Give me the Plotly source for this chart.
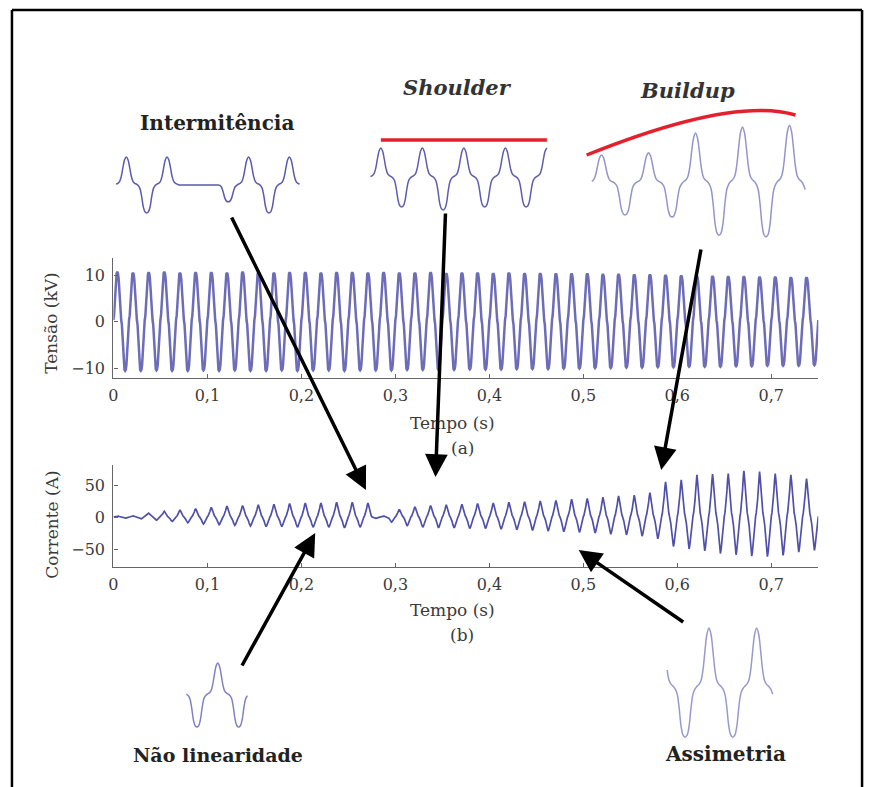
import math
import plotly.graph_objects as go

W, H = 872, 787

# ---------------- data ----------------
TIME_TICKS = [0, 0.1, 0.2, 0.3, 0.4, 0.5, 0.6, 0.7]
TIME_TICK_TEXT = ["0", "0,1", "0,2", "0,3", "0,4", "0,5", "0,6", "0,7"]
V_TICKS = [-10, 0, 10]
I_TICKS = [-50, 0, 50]
FREQ_HZ = 60
SAMPLES_PER_CYCLE = 24

# normalised cycles (each starts at the positive peak)
INSET_SHAPE = [1.00, 0.90, 0.62, 0.30, 0.12, 0.06, 0.03, -0.02, -0.12, -0.40, -0.78, -0.96,
               -1.00, -0.96, -0.78, -0.40, -0.12, -0.02, 0.03, 0.06, 0.12, 0.30, 0.62, 0.90]
V_SHAPE = [1.00, 0.97, 0.87, 0.64, 0.34, 0.12, 0.03, -0.06, -0.30, -0.64, -0.88, -0.98,
           -1.00, -0.98, -0.88, -0.64, -0.30, -0.06, 0.03, 0.12, 0.34, 0.64, 0.87, 0.97]
I_SHAPE = [1.00, 0.85, 0.60, 0.38, 0.22, 0.10, 0.02, -0.08, -0.22, -0.42, -0.68, -0.90,
           -1.00, -0.90, -0.68, -0.42, -0.22, -0.08, 0.02, 0.10, 0.22, 0.38, 0.60, 0.85]

# per-cycle peak / trough magnitudes, voltage (kV)
V_PEAKS = [10.6, 10.7, 10.5, 10.6, 10.7, 10.5, 10.6, 10.6, 10.5, 10.7,
           10.6, 10.5, 10.6, 10.6, 10.5, 10.6, 10.6, 10.5, 10.6, 10.5,
           10.5, 10.6, 10.4, 10.5, 10.5, 10.4, 10.5, 10.4, 10.4, 10.3,
           10.3, 10.3, 10.2, 10.2, 10.1, 10.1, 10.0, 9.9, 9.8, 9.8,
           9.7, 9.7, 9.6, 9.6, 9.5, 9.5, 9.5]
V_TROUGHS = [10.5, 10.6, 10.6, 10.5, 10.6, 10.6, 10.5, 10.6, 10.5, 10.6,
             10.6, 10.5, 10.6, 10.5, 10.5, 10.6, 10.5, 10.5, 10.5, 10.4,
             10.4, 10.4, 10.4, 10.3, 10.3, 10.3, 10.2, 10.2, 10.2, 10.1,
             10.1, 10.0, 10.0, 9.9, 9.9, 9.8, 9.8, 9.7, 9.7, 9.7,
             9.6, 9.6, 9.5, 9.5, 9.5, 9.4, 9.4]

# per-cycle peak / trough magnitudes, current (A)
I_PEAKS = [2, 2, 2, 6, 9, 11, 13, 15, 17, 18,
           19, 20, 21, 22, 22, 23, 23, 22, 1.5, 12,
           16, 18, 19, 20, 21, 22, 23, 24, 25, 26,
           28, 29, 31, 33, 34, 38, 55, 58, 66, 67,
           68, 72, 71, 68, 66, 60, 50]
I_TROUGHS = [2, 2, 3, 5, 7, 9, 11, 12, 13, 14,
             15, 15, 16, 16, 16, 17, 16, 2, 8, 14,
             16, 17, 17, 18, 18, 19, 20, 21, 22, 23,
             24, 25, 27, 28, 30, 34, 46, 50, 53, 57,
             59, 61, 62, 60, 55, 52, 50]

# inset waveforms (relative peak / trough sizes per cycle)
INT_PEAKS = [1, 1, 0.0, 1, 1]
INT_TROUGHS = [1, 0.0, 0.6, 1, 1]
SHOULDER_PEAKS = [1, 1, 1, 1, 1]
SHOULDER_TROUGHS = [1, 1.1, 1, 1]
BUILDUP_PEAKS = [0.51, 0.55, 0.91, 1.02, 1.05]
BUILDUP_TROUGHS = [0.58, 0.62, 0.95, 0.98, 0.98]
NONLIN_PEAKS = [1]
NONLIN_TROUGHS = [1]
ASYM_PEAKS = [1, 1, 1]
ASYM_TROUGHS = [0.82, 0.82]


def build_wave(shape, pos, neg, c_start, c_end):
    n = SAMPLES_PER_CYCLE
    xs, ys = [], []
    for i in range(round(c_start * n), round(c_end * n) + 1):
        s = shape[i % n]
        if s >= 0:
            a = pos[min(max(int(math.floor(i / n + 0.5)), 0), len(pos) - 1)]
        else:
            a = neg[min(max(int(math.floor(i / n)), 0), len(neg) - 1)]
        xs.append(i / n)
        ys.append(s * a)
    return xs, ys


def px_x(p):
    return p / W


def px_y(p):
    return 1 - p / H


def lin_domain(va, pa, vb, pb, lo, hi, vertical):
    f = lambda v: pa + (v - va) * (pb - pa) / (vb - va)
    a, b = f(lo), f(hi)
    if vertical:
        return sorted([px_y(a), px_y(b)])
    return sorted([px_x(a), px_x(b)])


fig = go.Figure()

SERIF = "DejaVu Serif"
AXC = "#666666"
TXT = "#3a3a3a"

# ---- main waveforms ----
cv, vv = build_wave(V_SHAPE, V_PEAKS, V_TROUGHS, 0.75, 45.75)
tv = [(c - 0.75) / FREQ_HZ for c in cv]
fig.add_trace(go.Scatter(x=tv, y=vv, mode="lines", line=dict(color="#6c6cb9", width=2.5),
                         xaxis="x", yaxis="y", showlegend=False, hoverinfo="skip"))
ci, iv = build_wave(I_SHAPE, I_PEAKS, I_TROUGHS, 0.75, 45.75)
ti = [(c - 0.75) / FREQ_HZ for c in ci]
fig.add_trace(go.Scatter(x=ti, y=iv, mode="lines", line=dict(color="#5050aa", width=1.7),
                         xaxis="x2", yaxis="y2", showlegend=False, hoverinfo="skip"))

axis_common = dict(showgrid=False, zeroline=False, showline=True, linecolor=AXC, linewidth=1.3,
                   ticks="inside", ticklen=4, tickcolor=AXC, mirror=False,
                   tickfont=dict(family=SERIF, size=16, color=TXT))

XD = [px_x(109), px_x(818)]
layout = dict(
    width=W, height=H, margin=dict(l=0, r=0, t=0, b=0),
    paper_bgcolor="white", plot_bgcolor="rgba(0,0,0,0)",
    showlegend=False,
    xaxis=dict(domain=XD, range=[0, 0.75], tickvals=TIME_TICKS, ticktext=TIME_TICK_TEXT,
               anchor="y", ticklabelstandoff=3, **axis_common),
    yaxis=dict(domain=[px_y(378), px_y(258)], range=[-12.15, 13.66], tickvals=V_TICKS,
               anchor="x", ticklabelstandoff=4, **axis_common),
    xaxis2=dict(domain=XD, range=[0, 0.75], tickvals=TIME_TICKS, ticktext=TIME_TICK_TEXT,
                anchor="y2", ticklabelstandoff=3, **axis_common),
    yaxis2=dict(domain=[px_y(567), px_y(465)], range=[-78.1, 81.25], tickvals=I_TICKS,
                anchor="x2", ticklabelstandoff=4, **axis_common),
)

# ---- insets ----
insets = [
    # peaks, troughs, c0, c1, (x map), (y map: value 1 px, value -1 px), colour
    (INT_PEAKS, INT_TROUGHS, -0.24, 4.27, (0, 122, 4, 286), (157, 213), "#5a5aac"),
    (SHOULDER_PEAKS, SHOULDER_TROUGHS, -0.26, 4.0, (0, 378, 4, 545), (148, 207), "#5e5eae"),
    (BUILDUP_PEAKS, BUILDUP_TROUGHS, -0.21, 4.33, (0, 600, 4, 789), (128, 238), "#9494cc"),
    (NONLIN_PEAKS, NONLIN_TROUGHS, -0.76, 0.69, (0, 214, 0.5, 235), (663, 727), "#8080c2"),
    (ASYM_PEAKS, ASYM_TROUGHS, -0.875, 1.35, (0, 708, 1, 756), (628, 748), "#9898ce"),
]
for n, (pk, tr, c0, c1, xm, ym, col) in enumerate(insets, start=3):
    xs, ys = build_wave(INSET_SHAPE, pk, tr, c0, c1)
    xr = [c0 - 0.1, c1 + 0.1]
    yr = [-1.3, 1.3]
    layout[f"xaxis{n}"] = dict(domain=lin_domain(xm[0], xm[1], xm[2], xm[3], xr[0], xr[1], False),
                               range=xr, visible=False, anchor=f"y{n}")
    layout[f"yaxis{n}"] = dict(domain=lin_domain(1, ym[0], -1, ym[1], yr[0], yr[1], True),
                               range=yr, visible=False, anchor=f"x{n}")
    fig.add_trace(go.Scatter(x=xs, y=ys, mode="lines", line=dict(color=col, width=1.5, shape="spline"),
                             xaxis=f"x{n}", yaxis=f"y{n}", showlegend=False, hoverinfo="skip"))

fig.update_layout(**layout)

# ---- shapes: frame + red envelopes ----
shapes = [
    dict(type="line", xref="paper", yref="paper", x0=px_x(7), y0=px_y(10), x1=px_x(862), y1=px_y(10),
         line=dict(color="black", width=2.5)),
    dict(type="line", xref="paper", yref="paper", x0=px_x(7), y0=px_y(10), x1=px_x(7), y1=px_y(790),
         line=dict(color="black", width=2.5)),
    dict(type="line", xref="paper", yref="paper", x0=px_x(862), y0=px_y(10), x1=px_x(862), y1=px_y(790),
         line=dict(color="black", width=2.5)),
    dict(type="line", xref="paper", yref="paper", x0=px_x(378), y0=px_y(140), x1=px_x(545), y1=px_y(140),
         line=dict(color="#e3202c", width=3.5)),
]
pts = [(585, 155), (660, 125), (745, 100), (795, 115)]
path = "M {},{} C {},{} {},{} {},{}".format(*[v for p in pts for v in (px_x(p[0]), px_y(p[1]))])
shapes.append(dict(type="path", xref="paper", yref="paper", path=path,
                   line=dict(color="#e3202c", width=3.5)))
fig.update_layout(shapes=shapes)

# ---- text ----
def text(x, y, s, size, bold=False, italic=False, angle=0, color=TXT):
    fig.add_annotation(x=px_x(x), y=px_y(y), xref="paper", yref="paper", text=s, showarrow=False,
                       xanchor="center", yanchor="middle", textangle=angle,
                       font=dict(family=SERIF, size=size, color=color,
                                 weight="bold" if bold else "normal",
                                 style="italic" if italic else "normal"))

text(213, 123, "Intermitência", 20, bold=True, color="#222")
text(455, 88, "Shoulder", 21, bold=True, italic=True, color="#333")
text(686, 90, "Buildup", 21, bold=True, italic=True, color="#333")
text(214, 755, "Não linearidade", 19, bold=True, color="#222")
text(725, 754, "Assimetria", 20, bold=True, color="#222")
text(450, 423, "Tempo (s)", 17)
text(460, 448, "(a)", 17)
text(450, 610, "Tempo (s)", 17)
text(460, 635, "(b)", 17)
text(46, 323, "Tensão (kV)", 17, angle=-90)
text(47, 525, "Corrente (A)", 17, angle=-90)

# ---- arrows (head, tail) ----
arrows = [((363, 490), (228, 216)), ((433, 477), (443, 212)), ((660, 470), (700, 248)),
          ((312, 533), (238, 667)), ((577, 550), (683, 623))]
for (hx, hy), (tx, ty) in arrows:
    fig.add_annotation(x=px_x(hx), y=px_y(hy), xref="paper", yref="paper", text="",
                       showarrow=True, axref="pixel", ayref="pixel", ax=tx - hx, ay=ty - hy,
                       arrowhead=2, arrowsize=1.3, arrowwidth=3.5, arrowcolor="black", standoff=0)

fig.write_html("out.html", config={"displayModeBar": False},
               post_script="document.body.style.margin='0px';document.body.style.overflow='hidden';")
